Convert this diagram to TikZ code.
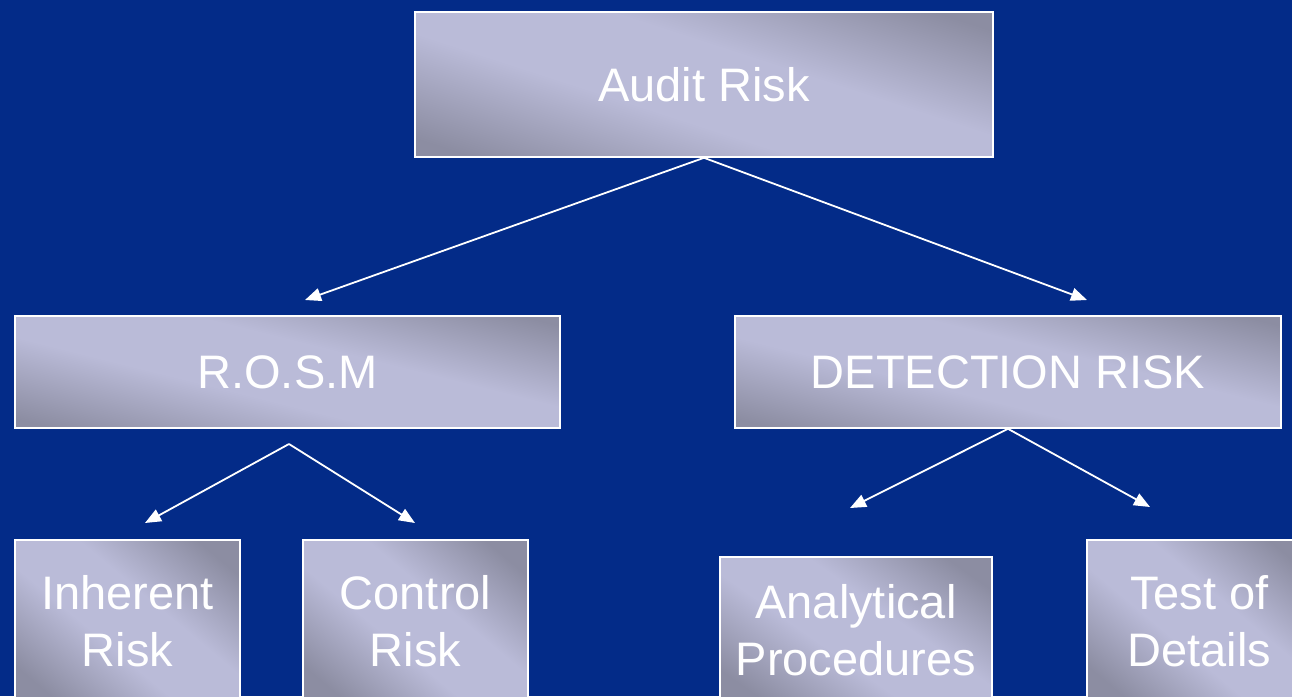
\documentclass[tikz,border=0pt]{standalone}
\usepackage{fontspec}
\setmainfont{Liberation Sans}
\usetikzlibrary{arrows.meta}
\definecolor{bg}{RGB}{3,43,136}
\definecolor{boxlight}{RGB}{186,187,216}
\definecolor{boxdark}{RGB}{140,141,162}
\pgfdeclareverticalshading{boxshade}{100bp}{color(0bp)=(boxdark); color(22bp)=(boxdark); color(42bp)=(boxlight); color(58bp)=(boxlight); color(78bp)=(boxdark); color(100bp)=(boxdark)}
\begin{document}
\begin{tikzpicture}[x=1pt,y=-1pt,
  box/.style={draw=white, line width=1.6pt, shading=boxshade, shading angle=#1, text=white,
    font=\fontsize{47}{57}\selectfont, align=center, inner sep=0pt},
  box/.default=-20,
  conn/.style={draw=white, line width=1.8pt, -{Triangle[length=16pt,width=13pt]}}]
\useasboundingbox (0,0) rectangle (1292,696);
\fill[bg] (0,0) rectangle (1292,696);
\clip (0,0) rectangle (1292,696);
\node[box=-18, minimum width=578, minimum height=145] (audit) at (704,84.5) {Audit Risk};
\node[box=-14, minimum width=545, minimum height=112] (rosm) at (287.5,372) {R.O.S.M};
\node[box=-14, minimum width=546, minimum height=112] (det) at (1008,372) {DETECTION RISK};
\node[box=-40, minimum width=225, minimum height=162] (ir) at (127.5,621) {Inherent\\Risk};
\node[box=-40, minimum width=225, minimum height=162] (cr) at (415.5,621) {Control\\Risk};
\node[box=-35, minimum width=272, minimum height=146] (ap) at (856,630) {Analytical\\Procedures};
\node[box=-40, minimum width=225, minimum height=162] (td) at (1199.5,621) {Test of\\Details};
\coordinate (rosmS) at (289,444);
\coordinate (rosmA) at (305,300);
\coordinate (detA) at (1087,300);
\coordinate (irA) at (145,523);
\coordinate (crA) at (415,523);
\coordinate (apA) at (850,508);
\coordinate (tdA) at (1150,507);
\draw[conn] (audit.south) -- (rosmA);
\draw[conn] (audit.south) -- (detA);
\draw[conn] (rosmS) -- (irA);
\draw[conn] (rosmS) -- (crA);
\draw[conn] (det.south) -- (apA);
\draw[conn] (det.south) -- (tdA);
\end{tikzpicture}
\end{document}
